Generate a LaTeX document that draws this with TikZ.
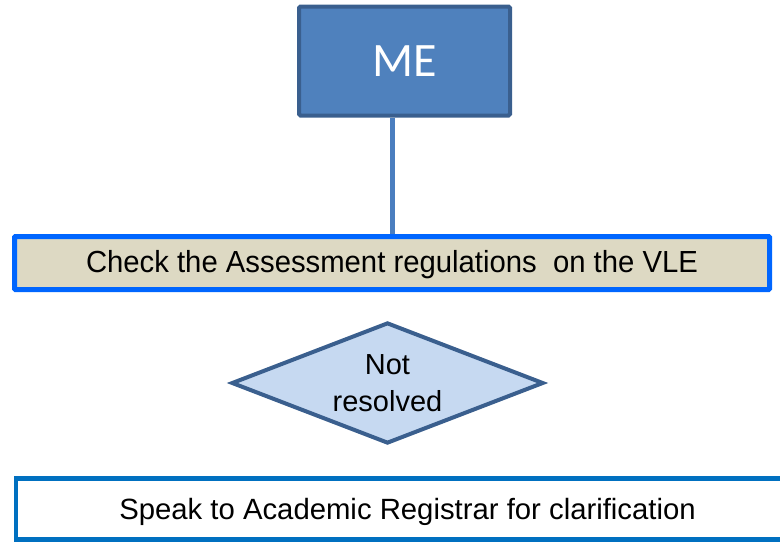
\documentclass[tikz,border=0pt]{standalone}
\usepackage{fontspec}
\setmainfont{Liberation Sans}
\newfontfamily\calibri{Carlito}
\usetikzlibrary{shapes.geometric}
\definecolor{mefill}{HTML}{4F81BD}
\definecolor{meline}{HTML}{3A5F8E}
\definecolor{chkfill}{HTML}{DDD9C3}
\definecolor{chkline}{HTML}{0066FF}
\definecolor{diafill}{HTML}{C6D9F1}
\definecolor{spkline}{HTML}{0070C0}
\definecolor{conn}{HTML}{4A7EBF}
\tikzset{
  mebox/.style={draw=meline, fill=mefill, line width=4pt, rounded corners=1.5pt,
    minimum width=211pt, minimum height=109pt, inner sep=0pt, text=white,
    font=\calibri\fontsize{48}{54}\selectfont},
  chkbox/.style={draw=chkline, fill=chkfill, line width=5pt, rounded corners=1pt,
    minimum width=755pt, minimum height=53pt, inner sep=0pt},
  chktxt/.style={font=\fontsize{30.5}{34}\selectfont, inner sep=0pt, xscale=0.96},
  decision/.style={diamond, shape aspect=2.58, draw=meline, fill=diafill, line width=4pt, inner sep=0pt,
    minimum width=312pt, minimum height=121pt, align=center,
    font=\fontsize{29}{37}\selectfont},
  spkbox/.style={draw=spkline, fill=white, line width=4.5pt,
    minimum width=790pt, minimum height=61pt, inner sep=0pt},
  spktxt/.style={font=\fontsize{29.3}{34}\selectfont, inner sep=0pt},
  connline/.style={draw=conn, line width=5pt}
}
\begin{document}
\begin{tikzpicture}[x=1pt,y=-1pt]
\useasboundingbox (0,0) rectangle (780,542);
\clip (0,0) rectangle (780,542);
\node[mebox] (me) at (404.5,61) {ME};
\node[chkbox] (chk) at (392,263) {};
\node[chktxt] (chktext) at (392,265) {Check the Assessment regulations \ on the VLE};
\node[decision] (dec) at (387.5,383) {Not\\resolved};
\node[spkbox] (spk) at (411,509) {};
\node[spktxt] (spktext) at (407.5,512) {Speak to Academic Registrar for clarification};
\draw[connline] (chk.north |- me.south) -- (chk.north);
\end{tikzpicture}
\end{document}
